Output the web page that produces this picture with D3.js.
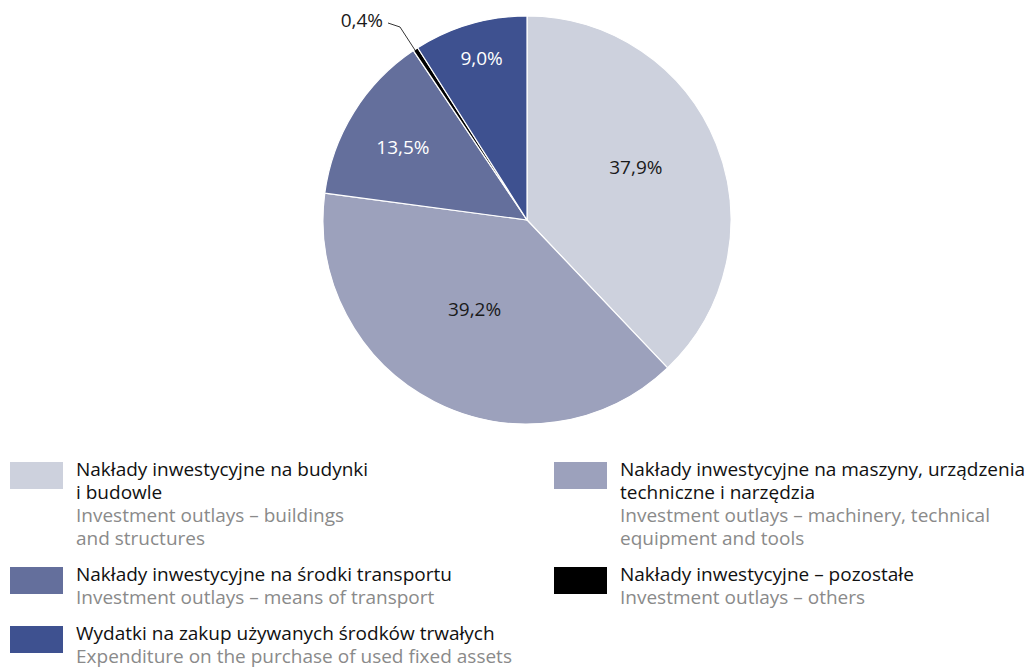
<!DOCTYPE html>
<html>
<head>
<meta charset="utf-8">
<script src="https://cdn.jsdelivr.net/npm/d3@7"></script>
<style>
  body { margin: 0; background: #fff; }
  svg text { font-family: "Open Sans", "Noto Sans", sans-serif; }
</style>
</head>
<body>
<svg id="chart" width="1030" height="668"></svg>
<script>
// categories (pie order, clockwise from 12 o'clock)
var categories = ["budynki", "maszyny", "transport", "pozostale", "wydatki"];
var shares = [37.9, 39.2, 13.5, 0.4, 9.0];
var shareLabels = ["37,9%", "39,2%", "13,5%", "0,4%", "9,0%"];
var colors = ["#cdd1dd", "#9ca1bc", "#646f9c", "#000000", "#3e5190"];
var labelsPl = [
    ["Nakłady inwestycyjne na budynki", "i budowle"],
    ["Nakłady inwestycyjne na maszyny, urządzenia", "techniczne i narzędzia"],
    ["Nakłady inwestycyjne na środki transportu"],
    ["Nakłady inwestycyjne – pozostałe"],
    ["Wydatki na zakup używanych środków trwałych"]
];
var labelsEn = [
    ["Investment outlays – buildings", "and structures"],
    ["Investment outlays – machinery, technical", "equipment and tools"],
    ["Investment outlays – means of transport"],
    ["Investment outlays – others"],
    ["Expenditure on the purchase of used fixed assets"]
];

var data = categories.map(function (c, i) {
    return { key: c, value: shares[i], label: shareLabels[i], color: colors[i], pl: labelsPl[i], en: labelsEn[i] };
});

var svg = d3.select("#chart");
var cx = 527, cy = 220, radius = 204;
var fontSize = 19;

var pie = d3.pie().sort(null).value(function (d) { return d.value; });
var arc = d3.arc().innerRadius(0).outerRadius(radius);
var arcs = pie(data);

var g = svg.append("g").attr("transform", "translate(" + cx + "," + cy + ")");

g.selectAll("path.slice")
    .data(arcs)
    .enter().append("path")
    .attr("class", "slice")
    .attr("d", arc)
    .attr("fill", function (d) { return d.data.color; })
    .attr("stroke", "#fff")
    .attr("stroke-width", 1.2)
    .attr("stroke-linejoin", "round");

// label placement per slice: distance from centre and angle tweak (degrees)
var labelPos = {
    budynki: { r: 121, da: -4.1 },
    maszyny: { r: 104, da: 3.3 },
    transport: { r: 144, da: -1.4 },
    wydatki: { r: 168, da: 0.5 }
};
var whiteText = { transport: true, wydatki: true };

arcs.forEach(function (d) {
    var mid = (d.startAngle + d.endAngle) / 2;
    if (d.data.key === "pozostale") {
        // small slice: outside label with leader line
        var ex = Math.sin(mid) * radius, ey = -Math.cos(mid) * radius;
        g.append("path")
            .attr("d", "M" + (ex - 0.5) + "," + (ey + 1) + "L-127,-193L-139,-197")
            .attr("fill", "none")
            .attr("stroke", "#000")
            .attr("stroke-width", 0.8);
        g.append("text")
            .attr("x", -144).attr("y", -193)
            .attr("text-anchor", "end")
            .attr("font-size", fontSize)
            .attr("fill", "#1a1a1a")
            .text(d.data.label);
        return;
    }
    var p = labelPos[d.data.key];
    var a = mid + p.da * Math.PI / 180;
    g.append("text")
        .attr("x", Math.sin(a) * p.r)
        .attr("y", -Math.cos(a) * p.r)
        .attr("dy", "0.35em")
        .attr("text-anchor", "middle")
        .attr("font-size", fontSize)
        .attr("fill", whiteText[d.data.key] ? "#fff" : "#1a1a1a")
        .text(d.data.label);
});

// legend: two columns, filled row by row
var colX = [10, 554];
var lineH = 23;
var rowTop = 462;
var legend = svg.append("g");

for (var row = 0; row * 2 < data.length; row++) {
    var maxLines = 0;
    for (var col = 0; col < 2; col++) {
        var i = row * 2 + col;
        if (i >= data.length) continue;
        var d = data[i];
        var lg = legend.append("g").attr("transform", "translate(" + colX[col] + "," + rowTop + ")");
        lg.append("rect")
            .attr("x", 0).attr("y", 0)
            .attr("width", 53).attr("height", 27)
            .attr("fill", d.color);
        var lines = d.pl.map(function (t) { return { t: t, c: "#111" }; })
            .concat(d.en.map(function (t) { return { t: t, c: "#8a8a8a" }; }));
        lg.selectAll("text")
            .data(lines)
            .enter().append("text")
            .attr("x", 66)
            .attr("y", function (l, j) { return 14 + j * lineH; })
            .attr("font-size", fontSize)
            .attr("fill", function (l) { return l.c; })
            .text(function (l) { return l.t; });
        maxLines = Math.max(maxLines, lines.length);
    }
    rowTop += maxLines * lineH + 13;
}
</script>
</body>
</html>
